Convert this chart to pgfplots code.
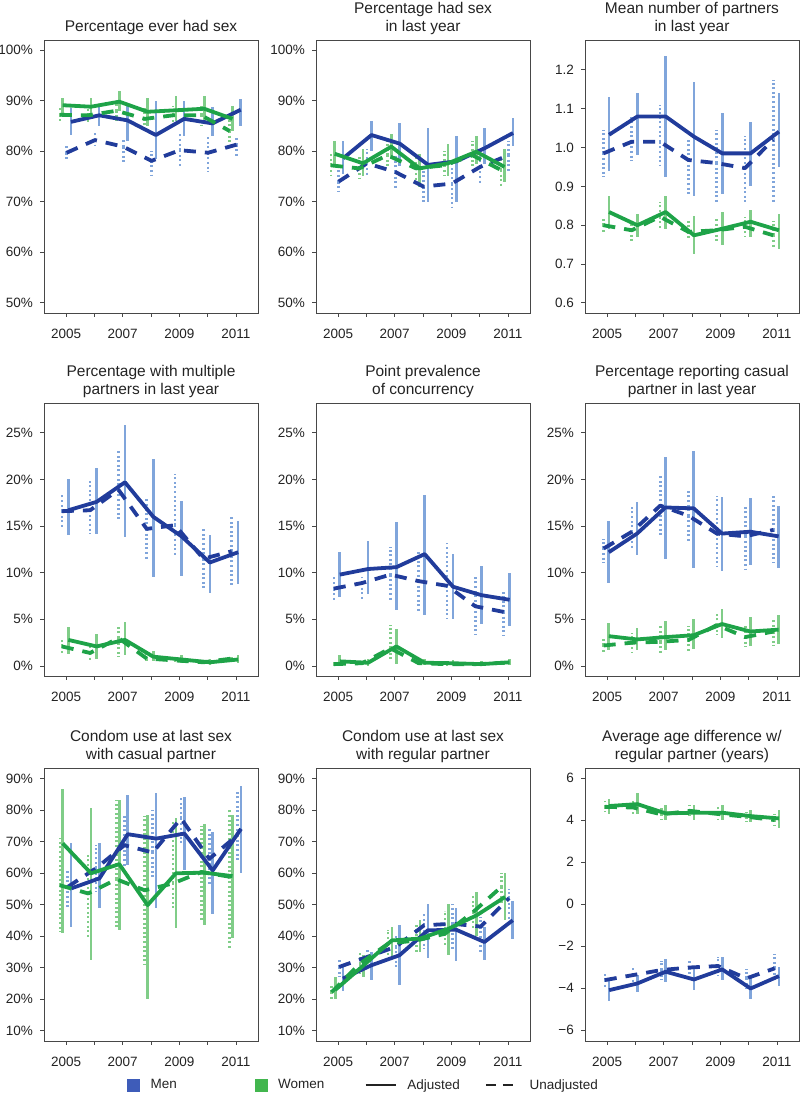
\documentclass[border=0pt]{standalone}
\usepackage{pgfplots}
\pgfplotsset{compat=1.18}
\usepackage{pgfplotstable}
\usepackage{fontspec}
\setmainfont{Liberation Sans}
\definecolor{mdark}{RGB}{33,60,155}
\definecolor{mlight}{RGB}{96,142,210}
\definecolor{gdark}{RGB}{30,163,72}
\definecolor{glight}{RGB}{96,192,106}
\definecolor{mleg}{RGB}{62,92,185}
\definecolor{gleg}{RGB}{66,182,78}
\definecolor{txt}{RGB}{35,35,35}

% ---------- Panel A: Percentage ever had sex ----------
\pgfplotstableread{
yr v lo hi
2005 85.8 83.2 88.5
2006 87.1 85.0 89.2
2007 86.1 82.0 89.5
2008 83.2 78.5 90.0
2009 86.4 83.0 90.0
2010 85.5 83.0 88.8
2011 88.2 85.0 90.4
}\pAma
\pgfplotstableread{
yr v lo hi
2005 79.7 78.0 81.5
2006 82.2 81.0 84.0
2007 80.9 77.5 82.5
2008 78.1 75.0 80.0
2009 80.2 77.0 83.5
2010 79.7 76.0 83.0
2011 81.3 79.0 82.8
}\pAmu
\pgfplotstableread{
yr v lo hi
2005 89.1 87.0 90.5
2006 88.8 87.0 90.5
2007 89.8 88.0 92.0
2008 87.8 85.0 90.5
2009 88.1 86.0 91.0
2010 88.4 86.0 91.0
2011 86.4 84.0 89.0
}\pAwa
\pgfplotstableread{
yr v lo hi
2005 87.2 85.5 89.0
2006 87.1 85.5 89.0
2007 88.0 86.0 90.0
2008 86.4 84.0 89.0
2009 87.1 85.0 89.0
2010 87.1 85.0 89.0
2011 84.0 81.0 87.5
}\pAwu
% ---------- Panel B: Percentage had sex in last year ----------
\pgfplotstableread{
yr v lo hi
2005 78.6 75.5 82.0
2006 83.2 80.0 86.0
2007 81.5 77.0 85.5
2008 77.3 70.0 84.5
2009 78.0 70.0 83.0
2010 80.6 77.5 84.5
2011 83.6 81.0 86.5
}\pBma
\pgfplotstableread{
yr v lo hi
2005 74.0 72.0 77.0
2006 77.6 75.0 80.5
2007 75.9 72.5 79.5
2008 73.0 70.0 77.0
2009 73.6 69.0 78.0
2010 76.9 73.5 80.0
2011 79.2 76.0 82.0
}\pBmu
\pgfplotstableread{
yr v lo hi
2005 79.5 77.0 82.0
2006 77.6 75.0 80.5
2007 80.9 78.5 83.5
2008 76.6 73.0 79.5
2009 77.6 75.0 81.5
2010 79.9 77.5 83.0
2011 76.9 74.0 80.5
}\pBwa
\pgfplotstableread{
yr v lo hi
2005 77.2 75.0 79.5
2006 76.6 74.5 79.0
2007 79.2 77.0 82.0
2008 76.6 74.0 79.0
2009 77.2 75.0 80.0
2010 79.2 77.0 82.0
2011 76.3 73.0 79.0
}\pBwu
% ---------- Panel C: Mean number of partners ----------
\pgfplotstableread{
yr v lo hi
2005 1.033 0.940 1.130
2006 1.080 0.980 1.140
2007 1.080 0.925 1.235
2008 1.028 0.875 1.170
2009 0.985 0.880 1.090
2010 0.985 0.900 1.065
2011 1.041 0.950 1.140
}\pCma
\pgfplotstableread{
yr v lo hi
2005 0.985 0.925 1.045
2006 1.015 0.965 1.080
2007 1.015 0.955 1.110
2008 0.968 0.880 1.020
2009 0.960 0.860 1.045
2010 0.947 0.860 1.030
2011 1.020 0.860 1.175
}\pCmu
\pgfplotstableread{
yr v lo hi
2005 0.834 0.790 0.875
2006 0.800 0.770 0.830
2007 0.834 0.790 0.875
2008 0.774 0.725 0.825
2009 0.791 0.750 0.835
2010 0.809 0.770 0.840
2011 0.787 0.740 0.830
}\pCwa
\pgfplotstableread{
yr v lo hi
2005 0.800 0.780 0.820
2006 0.787 0.760 0.810
2007 0.822 0.790 0.860
2008 0.783 0.760 0.815
2009 0.787 0.760 0.820
2010 0.796 0.770 0.820
2011 0.774 0.740 0.810
}\pCwu
% ---------- Panel D: multiple partners ----------
\pgfplotstableread{
yr v lo hi
2005 16.7 14.0 20.0
2006 17.6 14.2 21.2
2007 19.7 13.8 25.8
2008 16.0 9.5 22.2
2009 13.9 9.7 17.7
2010 11.1 7.8 14.0
2011 12.2 8.8 15.6
}\pDma
\pgfplotstableread{
yr v lo hi
2005 16.6 14.8 18.5
2006 16.7 14.2 20.0
2007 18.9 15.6 23.2
2008 14.7 11.4 18.0
2009 15.1 11.7 20.6
2010 11.5 8.1 14.9
2011 12.3 8.7 16.2
}\pDmu
\pgfplotstableread{
yr v lo hi
2005 2.8 1.3 4.2
2006 2.1 0.8 3.4
2007 2.8 1.2 4.7
2008 1.0 0.5 1.6
2009 0.7 0.3 1.2
2010 0.4 0.1 0.8
2011 0.7 0.3 1.2
}\pDwa
\pgfplotstableread{
yr v lo hi
2005 2.1 1.2 3.0
2006 1.4 0.6 2.4
2007 3.0 1.0 4.4
2008 0.8 0.4 1.3
2009 0.6 0.3 1.0
2010 0.4 0.1 0.7
2011 0.8 0.4 1.2
}\pDwu
% ---------- Panel E: concurrency ----------
\pgfplotstableread{
yr v lo hi
2005 9.8 7.4 12.2
2006 10.4 7.7 13.4
2007 10.6 6.0 15.4
2008 12.0 5.5 18.3
2009 8.5 5.0 12.0
2010 7.6 4.5 10.7
2011 7.1 4.3 10.0
}\pEma
\pgfplotstableread{
yr v lo hi
2005 8.3 6.9 9.6
2006 8.9 7.0 9.5
2007 9.8 6.9 12.8
2008 9.1 5.9 12.4
2009 8.6 5.0 13.2
2010 6.4 3.3 9.8
2011 5.8 3.2 8.2
}\pEmu
\pgfplotstableread{
yr v lo hi
2005 0.5 0.0 1.2
2006 0.35 0.0 0.8
2007 2.1 0.2 4.0
2008 0.35 0.1 0.7
2009 0.3 0.1 0.6
2010 0.2 0.05 0.5
2011 0.4 0.1 0.8
}\pEwa
\pgfplotstableread{
yr v lo hi
2005 0.2 0.0 0.6
2006 0.3 0.0 0.7
2007 1.9 0.5 4.4
2008 0.3 0.1 0.6
2009 0.2 0.05 0.5
2010 0.2 0.05 0.5
2011 0.35 0.1 0.7
}\pEwu
% ---------- Panel F: casual partner ----------
\pgfplotstableread{
yr v lo hi
2005 12.2 8.9 15.6
2006 14.2 11.9 17.6
2007 17.0 11.5 22.4
2008 16.9 10.5 23.1
2009 14.2 10.2 18.1
2010 14.4 10.8 18.0
2011 13.9 10.5 17.2
}\pFma
\pgfplotstableread{
yr v lo hi
2005 12.6 11.0 13.6
2006 14.4 12.7 17.0
2007 17.2 13.8 20.5
2008 16.1 13.4 18.9
2009 14.2 10.7 18.2
2010 13.9 10.4 17.0
2011 14.6 11.0 18.2
}\pFmu
\pgfplotstableread{
yr v lo hi
2005 3.2 1.7 4.6
2006 2.85 1.7 4.1
2007 3.1 1.7 4.8
2008 3.3 1.8 5.0
2009 4.5 3.0 6.1
2010 3.7 2.1 5.3
2011 3.9 2.4 5.5
}\pFwa
\pgfplotstableread{
yr v lo hi
2005 2.2 1.5 3.0
2006 2.5 1.5 3.5
2007 2.6 1.2 4.5
2008 2.8 1.4 4.3
2009 4.4 3.3 5.7
2010 3.1 2.0 4.3
2011 3.7 2.2 5.0
}\pFwu
% ---------- Panel G: condom casual ----------
\pgfplotstableread{
yr v lo hi
2005 55.1 43.0 69.5
2006 58.3 48.8 69.5
2007 72.3 62.5 84.7
2008 70.9 49.0 85.5
2009 72.5 61.0 84.0
2010 60.8 47.0 73.0
2011 74.0 60.0 87.5
}\pGma
\pgfplotstableread{
yr v lo hi
2005 55.6 49.0 61.0
2006 61.5 54.0 69.0
2007 68.8 62.0 79.0
2008 66.5 58.0 80.0
2009 77.3 69.0 84.0
2010 64.5 56.0 74.0
2011 72.0 64.0 86.0
}\pGmu
\pgfplotstableread{
yr v lo hi
2005 69.4 41.0 86.5
2006 59.9 32.4 80.5
2007 62.8 41.9 83.1
2008 49.8 20.1 78.4
2009 59.9 42.5 77.5
2010 60.1 43.5 75.5
2011 59.0 39.3 78.4
}\pGwa
\pgfplotstableread{
yr v lo hi
2005 56.1 41.3 71.0
2006 53.5 39.0 66.0
2007 58.0 43.0 83.0
2008 54.5 31.0 78.0
2009 56.7 49.0 77.0
2010 60.3 45.0 75.0
2011 58.8 36.0 80.0
}\pGwu
% ---------- Panel H: condom regular ----------
\pgfplotstableread{
yr v lo hi
2005 26.5 22.5 30.5
2006 30.7 26.0 35.0
2007 33.9 24.5 43.5
2008 41.8 33.0 50.0
2009 42.0 32.0 49.0
2010 38.1 32.5 43.0
2011 45.0 39.0 51.0
}\pHma
\pgfplotstableread{
yr v lo hi
2005 30.2 27.0 32.5
2006 33.4 30.0 36.0
2007 36.6 30.0 40.0
2008 43.4 36.0 47.0
2009 43.9 36.0 50.0
2010 43.0 35.0 46.0
2011 52.0 45.0 55.0
}\pHmu
\pgfplotstableread{
yr v lo hi
2005 22.9 20.0 27.0
2006 30.7 27.0 34.0
2007 38.6 33.0 43.0
2008 39.2 35.0 45.0
2009 42.3 34.0 50.0
2010 46.6 40.0 54.0
2011 52.4 45.0 60.0
}\pHwa
\pgfplotstableread{
yr v lo hi
2005 22.2 20.0 25.0
2006 31.2 28.0 35.0
2007 37.6 34.0 42.0
2008 38.6 35.0 44.0
2009 40.7 37.0 48.0
2010 47.6 42.0 53.0
2011 55.6 50.0 60.0
}\pHwu
% ---------- Panel I: age difference ----------
\pgfplotstableread{
yr v lo hi
2005 -4.10 -4.6 -3.6
2006 -3.78 -4.2 -3.4
2007 -3.22 -3.7 -2.6
2008 -3.59 -4.1 -3.1
2009 -3.11 -3.6 -2.5
2010 -4.02 -4.5 -3.5
2011 -3.43 -3.9 -3.0
}\pIma
\pgfplotstableread{
yr v lo hi
2005 -3.62 -4.0 -3.3
2006 -3.38 -3.8 -3.0
2007 -3.14 -3.6 -2.7
2008 -3.02 -3.5 -2.6
2009 -2.95 -3.4 -2.5
2010 -3.54 -4.0 -3.1
2011 -3.06 -3.6 -2.4
}\pImu
\pgfplotstableread{
yr v lo hi
2005 4.67 4.3 5.0
2006 4.76 4.3 5.3
2007 4.32 4.0 4.7
2008 4.35 4.0 4.7
2009 4.35 4.0 4.7
2010 4.19 3.9 4.5
2011 4.08 3.6 4.5
}\pIwa
\pgfplotstableread{
yr v lo hi
2005 4.63 4.4 4.9
2006 4.60 4.3 4.9
2007 4.27 4.0 4.6
2008 4.44 4.2 4.7
2009 4.29 4.0 4.6
2010 4.16 3.9 4.4
2011 4.00 3.7 4.3
}\pIwu

\pgfplotsset{
  panel/.style={scale only axis, width=214pt, height=273pt, anchor=south west,
    xmin=2004.22, xmax=2011.78,
    xtick={2005,2006,2007,2008,2009,2010,2011},
    xticklabels={2005,,2007,,2009,,2011},
    tick align=outside, xtick pos=bottom, ytick pos=left,
    major tick length=4pt,
    axis line style={draw=black!72, line width=0.8pt},
    every tick/.style={draw=black!72, line width=0.8pt},
    tick label style={font=\fontsize{13.5}{16}\selectfont, text=txt},
    yticklabel style={inner sep=0pt, xshift=-7pt},
    xticklabel style={inner sep=0pt, yshift=-12pt},
    title style={font=\fontsize{15.5}{18.5}\selectfont, text=txt, align=center,
      at={(0.5,1)}, anchor=south, inner sep=0pt, yshift=-1pt}},
  pcthi/.style={ymin=48, ymax=102, ytick={50,60,70,80,90,100},
    yticklabels={50\%,60\%,70\%,80\%,90\%,100\%}},
  pctlo/.style={ymin=-1.07, ymax=28.2, ytick={0,5,10,15,20,25},
    yticklabels={0\%,5\%,10\%,15\%,20\%,25\%}},
  pctcd/.style={ymin=6.7, ymax=93.3, ytick={10,20,30,40,50,60,70,80,90},
    yticklabels={10\%,20\%,30\%,40\%,50\%,60\%,70\%,80\%,90\%}},
  ciA/.style={draw=none, mark=none, forget plot,
    error bars/.cd, y dir=both, y explicit, error mark=none,
    error bar style={draw=#1, line width=2.6pt, opacity=0.8, solid}},
  ciU/.style={draw=none, mark=none, forget plot,
    error bars/.cd, y dir=both, y explicit, error mark=none,
    error bar style={draw=#1, line width=2.6pt, opacity=0.8, dash pattern=on 2pt off 2.6pt}},
  lnA/.style={draw=#1, line width=3.8pt, line join=round, mark=none, solid, forget plot},
  lnU/.style={draw=#1, line width=3.8pt, line join=round, mark=none, dash pattern=on 12pt off 9pt, forget plot},
}
\newcommand{\serci}[3]{\addplot[#1] table[x expr=\thisrow{yr}+(#3), y=v,
  y error plus expr=(\thisrow{hi})-(\thisrow{v}), y error minus expr=(\thisrow{v})-(\thisrow{lo})] {#2};}
\newcommand{\serln}[3]{\addplot[#1] table[x expr=\thisrow{yr}+(#3), y=v] {#2};}
\newcommand{\drawpanel}[8]{%
  \serci{ciA=mlight}{#1}{#5}
  \serci{ciU=mlight}{#2}{#6}
  \serci{ciA=glight}{#3}{#7}
  \serci{ciU=glight}{#4}{#8}
  \serln{lnU=mdark}{#2}{#6}
  \serln{lnA=mdark}{#1}{#5}
  \serln{lnU=gdark}{#4}{#8}
  \serln{lnA=gdark}{#3}{#7}
}

\begin{document}
\begin{tikzpicture}
\useasboundingbox (0,0) rectangle (800pt,1095pt);
% Row 1
\begin{axis}[panel, pcthi, at={(44pt,782pt)}, title={Percentage ever had sex}]
\drawpanel{\pAma}{\pAmu}{\pAwa}{\pAwu}{0.17}{0.02}{-0.12}{-0.22}
\end{axis}
\begin{axis}[panel, pcthi, at={(316pt,782pt)}, title={Percentage had sex\\in last year}]
\drawpanel{\pBma}{\pBmu}{\pBwa}{\pBwu}{0.18}{0.02}{-0.12}{-0.25}
\end{axis}
\begin{axis}[panel, at={(585pt,782pt)}, title={Mean number of partners\\in last year},
  ymin=0.574, ymax=1.277, ytick={0.6,0.7,0.8,0.9,1.0,1.1,1.2},
  yticklabels={0.6,0.7,0.8,0.9,1.0,1.1,1.2}]
\drawpanel{\pCma}{\pCmu}{\pCwa}{\pCwu}{0.07}{-0.13}{0.07}{-0.13}
\end{axis}
% Row 2
\begin{axis}[panel, pctlo, at={(44pt,419pt)}, title={Percentage with multiple\\partners in last year}]
\drawpanel{\pDma}{\pDmu}{\pDwa}{\pDwu}{0.08}{-0.15}{0.08}{-0.15}
\end{axis}
\begin{axis}[panel, pctlo, at={(316pt,419pt)}, title={Point prevalence\\of concurrency}]
\drawpanel{\pEma}{\pEmu}{\pEwa}{\pEwu}{0.06}{-0.15}{0.06}{-0.15}
\end{axis}
\begin{axis}[panel, pctlo, at={(585pt,419pt)}, title={Percentage reporting casual\\partner in last year}]
\drawpanel{\pFma}{\pFmu}{\pFwa}{\pFwu}{0.06}{-0.12}{0.06}{-0.12}
\end{axis}
% Row 3
\begin{axis}[panel, pctcd, at={(44pt,54pt)}, title={Condom use at last sex\\with casual partner}]
\drawpanel{\pGma}{\pGmu}{\pGwa}{\pGwu}{0.18}{0.06}{-0.12}{-0.22}
\end{axis}
\begin{axis}[panel, pctcd, at={(316pt,54pt)}, title={Condom use at last sex\\with regular partner}]
\drawpanel{\pHma}{\pHmu}{\pHwa}{\pHwu}{0.17}{0.04}{-0.10}{-0.23}
\end{axis}
\begin{axis}[panel, at={(585pt,54pt)}, title={Average age difference w/\\regular partner (years)},
  ymin=-6.52, ymax=6.48, ytick={-6,-4,-2,0,2,4,6},
  yticklabels={−6,−4,−2,0,2,4,6}]
\drawpanel{\pIma}{\pImu}{\pIwa}{\pIwu}{0.07}{-0.08}{0.07}{-0.08}
\end{axis}
% Legend
\begin{axis}[at={(0pt,0pt)}, anchor=south west, scale only axis, width=800pt, height=24pt,
  xmin=0, xmax=800, ymin=0, ymax=24, hide axis,
  legend style={at={(axis cs:127,10)}, anchor=west, draw=none, fill=none, inner sep=0pt,
    legend columns=4, font=\fontsize{13.5}{16}\selectfont, text=txt,
    /tikz/column sep=0pt, /tikz/every even column/.style={column sep=0pt},
    nodes={inner sep=0pt, anchor=west}},
  legend cell align=left]
\addlegendimage{legend image code/.code={\fill[mleg] (0pt,-6pt) rectangle (12pt,6pt);}}
\addlegendentry{\hspace*{11pt}\makebox[104pt][l]{Men}}
\addlegendimage{legend image code/.code={\fill[gleg] (0pt,-6pt) rectangle (12pt,6pt);}}
\addlegendentry{\hspace*{11pt}\makebox[87pt][l]{Women}}
\addlegendimage{legend image code/.code={\draw[txt, line width=1.3pt] (0pt,0pt) -- (30pt,0pt);}}
\addlegendentry{\hspace*{11pt}\makebox[78pt][l]{Adjusted}}
\addlegendimage{legend image code/.code={\draw[txt, line width=1.3pt, dash pattern=on 10pt off 7pt] (0pt,0pt) -- (27pt,0pt);}}
\addlegendentry{\hspace*{16pt}Unadjusted}
\end{axis}
\end{tikzpicture}
\end{document}
